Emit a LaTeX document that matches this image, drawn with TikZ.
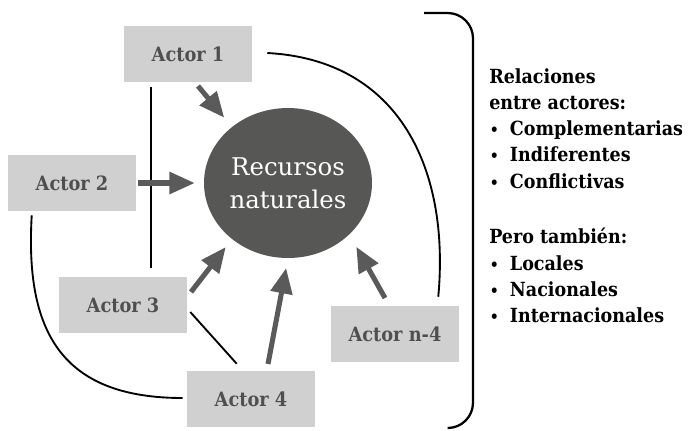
\documentclass[tikz,border=0pt]{standalone}
\usepackage{fontspec}
\setmainfont{DejaVu Serif}
\newfontfamily\condfont{DejaVu Serif Condensed}
\usetikzlibrary{arrows.meta,shapes.geometric,calc}
\definecolor{boxgray}{HTML}{D0D0D0}
\definecolor{boxtext}{HTML}{4F4F4F}
\definecolor{circgray}{HTML}{575756}
\definecolor{arrgray}{HTML}{5A5A5A}
\begin{document}
\begin{tikzpicture}[x=0.75pt,y=-0.75pt,
  actor/.style={fill=boxgray,text=boxtext,minimum width=96pt,minimum height=42pt,inner sep=0pt,font=\condfont\fontsize{14.8pt}{16pt}\bfseries},
  res/.style={ellipse,fill=circgray,text=white,minimum width=126pt,minimum height=112.5pt,inner sep=0pt,align=center,font=\fontsize{18.3pt}{24.75pt}\selectfont},
  arr/.style={draw=arrgray,line width=3.8pt,-{Triangle[length=19pt,width=16pt]}},
  rel/.style={black,line width=1.4pt},
  info/.style={anchor=north west,inner sep=0pt,align=left,font=\condfont\fontsize{14.6pt}{19.7pt}\bfseries}
]
\useasboundingbox (0,0) rectangle (688,430);
\node[actor] (a1) at (188,54) {Actor 1};
\node[actor] (a2) at (72,183) {Actor 2};
\node[actor] (a3) at (123,305) {Actor 3};
\node[actor] (a4) at (251,399) {Actor 4};
\node[actor] (an) at (395,334) {Actor n-4};
\node[res] (rn) at (288,183) {Recursos\\naturales};
% relation lines
\draw[rel] ($(a1.south west)+(27,5)$) -- ($(a3.north west)+(92,-9)$);
\draw[rel] ($(a3.east)+(3,7)$) -- ($(a4.north west)+(50,-7)$);
\draw[rel] ($(a2.south west)+(24,4)$) .. controls (25,330) and (60,398) .. ($(a4.west)+(-4,-1)$);
\draw[rel] ($(a1.east)+(15,-1)$) .. controls (400,60) and (450,170) .. ($(an.north east)+(-21,-9)$);
% arrows
\coordinate (s1) at (198,86);
\coordinate (s3) at (191,292);
\coordinate (s4) at (268,364);
\coordinate (sn) at (385,298);
\draw[arr,shorten >=9pt] (s1) -- (rn.135);
\draw[arr,shorten <=1.5pt,shorten >=6.75pt] (a2.east) -- (rn.west);
\draw[arr,shorten >=7.5pt] (s3) -- (rn.-135);
\draw[arr,shorten >=7.5pt] (s4) -- (rn.south);
\draw[arr,shorten >=10.5pt] (sn) -- (rn.-40);
% bracket
\draw[black,line width=1.7pt,rounded corners=19pt] (424,13) -- (473,13) -- (473,428) -- (448,428);
\node[info] (txt) at (489,68) {Relaciones\\
entre actores:\\
\makebox[15.5pt][l]{\hspace{0.5pt}\scalebox{0.8}{•}}Complementarias\\
\makebox[15.5pt][l]{\hspace{0.5pt}\scalebox{0.8}{•}}Indiferentes\\
\makebox[15.5pt][l]{\hspace{0.5pt}\scalebox{0.8}{•}}Conflictivas\\[22pt]
Pero también:\\
\makebox[15.5pt][l]{\hspace{0.5pt}\scalebox{0.8}{•}}Locales\\
\makebox[15.5pt][l]{\hspace{0.5pt}\scalebox{0.8}{•}}Nacionales\\
\makebox[15.5pt][l]{\hspace{0.5pt}\scalebox{0.8}{•}}Internacionales};
\end{tikzpicture}
\end{document}
